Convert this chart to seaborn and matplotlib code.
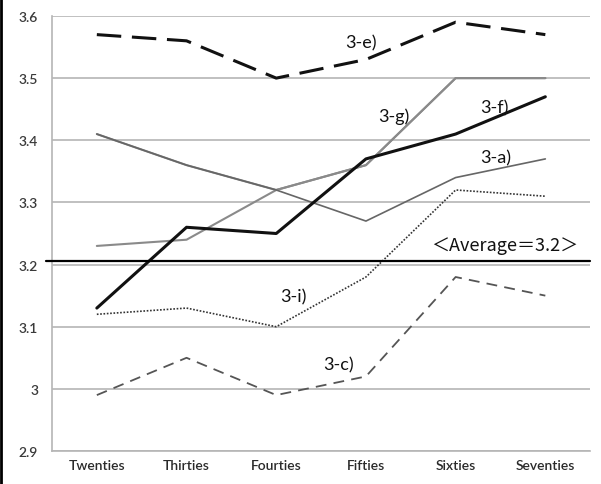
import pandas as pd
import matplotlib
matplotlib.use('Agg')
import matplotlib.pyplot as plt
import seaborn as sns
from matplotlib.lines import Line2D

# Datos del gráfico
decades = ['Twenties', 'Thirties', 'Fourties', 'Fifties', 'Sixties', 'Seventies']
s_3e = [3.57, 3.56, 3.50, 3.53, 3.59, 3.57]
s_3g = [3.23, 3.24, 3.32, 3.36, 3.50, 3.50]
s_other = [3.41, 3.36, 3.32, 3.36, 3.50, 3.50]  # sin etiqueta, se solapa con 3-g
s_3f = [3.13, 3.26, 3.25, 3.37, 3.41, 3.47]
s_3a = [3.41, 3.36, 3.32, 3.27, 3.34, 3.37]
s_3i = [3.12, 3.13, 3.10, 3.18, 3.32, 3.31]
s_3c = [2.99, 3.05, 2.99, 3.02, 3.18, 3.15]
average = 3.205
y_ticks = [2.9, 3.0, 3.1, 3.2, 3.3, 3.4, 3.5, 3.6]
y_tick_labels = ['2.9', '3', '3.1', '3.2', '3.3', '3.4', '3.5', '3.6']

sns.set_style('white')
plt.rcParams['font.family'] = ['Lato', 'DejaVu Sans']

fig = plt.figure(figsize=(6.01, 4.85), dpi=100)
ax = fig.add_axes([0.0865, 0.068, 0.8955, 0.897])

x = list(range(len(decades)))

# Estilo de cada serie: (valores, color, ancho, guiones)
series = [
    (s_other, '#8a8a8a', 1.5, None),
    (s_3g, '#8a8a8a', 1.5, None),
    (s_3a, '#666666', 1.2, None),
    (s_3i, '#333333', 1.2, (1, 1)),
    (s_3c, '#555555', 1.3, (6, 4)),
    (s_3f, '#111111', 2.2, None),
    (s_3e, '#111111', 2.2, (8, 3.5)),
]

for vals, color, lw, dash in series:
    df = pd.DataFrame({'x': x, 'y': vals})
    sns.lineplot(data=df, x='x', y='y', ax=ax, color=color,
                 linewidth=lw, sort=False, zorder=3)
    if dash is not None:
        ax.lines[-1].set_dashes(dash)

ax.axhline(average, color='black', linewidth=1.6, zorder=4,
           xmin=-0.012, xmax=1, clip_on=False)

ax.set_xlim(-0.5, len(decades) - 0.5)
ax.set_ylim(2.9, 3.6)
ax.set_yticks(y_ticks)
ax.set_yticklabels(y_tick_labels)
ax.yaxis.grid(True, color='#b5b5b5', linewidth=1.2)
ax.set_axisbelow(True)

ax.set_xticks(x)
ax.set_xticklabels(decades)
ax.set_xticks([i - 0.5 for i in range(len(decades) + 1)], minor=True)
ax.tick_params(axis='x', which='major', length=0, labelsize=10, pad=6, colors='#2a2a2a')
ax.tick_params(axis='x', which='minor', length=4, color='#b5b5b5', direction='in')
ax.tick_params(axis='y', length=6, color='#b5b5b5', labelsize=10, colors='#3a3a3a', pad=4)
for lab in ax.get_xticklabels() + ax.get_yticklabels():
    lab.set_fontweight('semibold')
ax.set_xlabel('')
ax.set_ylabel('')

for side in ['top', 'right']:
    ax.spines[side].set_visible(False)
for side in ['left', 'bottom']:
    ax.spines[side].set_color('#b5b5b5')
    ax.spines[side].set_linewidth(1.2)

# Etiquetas de las series
labels = [
    ('3-e)', 2.94, 3.557),
    ('3-g)', 3.31, 3.439),
    ('3-f)', 4.43, 3.453),
    ('3-a)', 4.45, 3.373),
    ('3-i)', 2.19, 3.149),
    ('3-c)', 2.69, 3.04),
]
for txt, lx, ly in labels:
    ax.text(lx, ly, txt, fontsize=13, ha='center', va='center', color='#111111')

ax.text(4.55, 3.232, '＜Average＝3.2＞', fontsize=13, ha='center', va='center',
        family=['Noto Sans CJK JP', 'DejaVu Sans'], color='#111111')

# borde izquierdo de la imagen
fig.add_artist(Line2D([0.002, 0.002], [0, 1], color='black', linewidth=2,
                      transform=fig.transFigure))

fig.savefig('out.png', dpi=100)
